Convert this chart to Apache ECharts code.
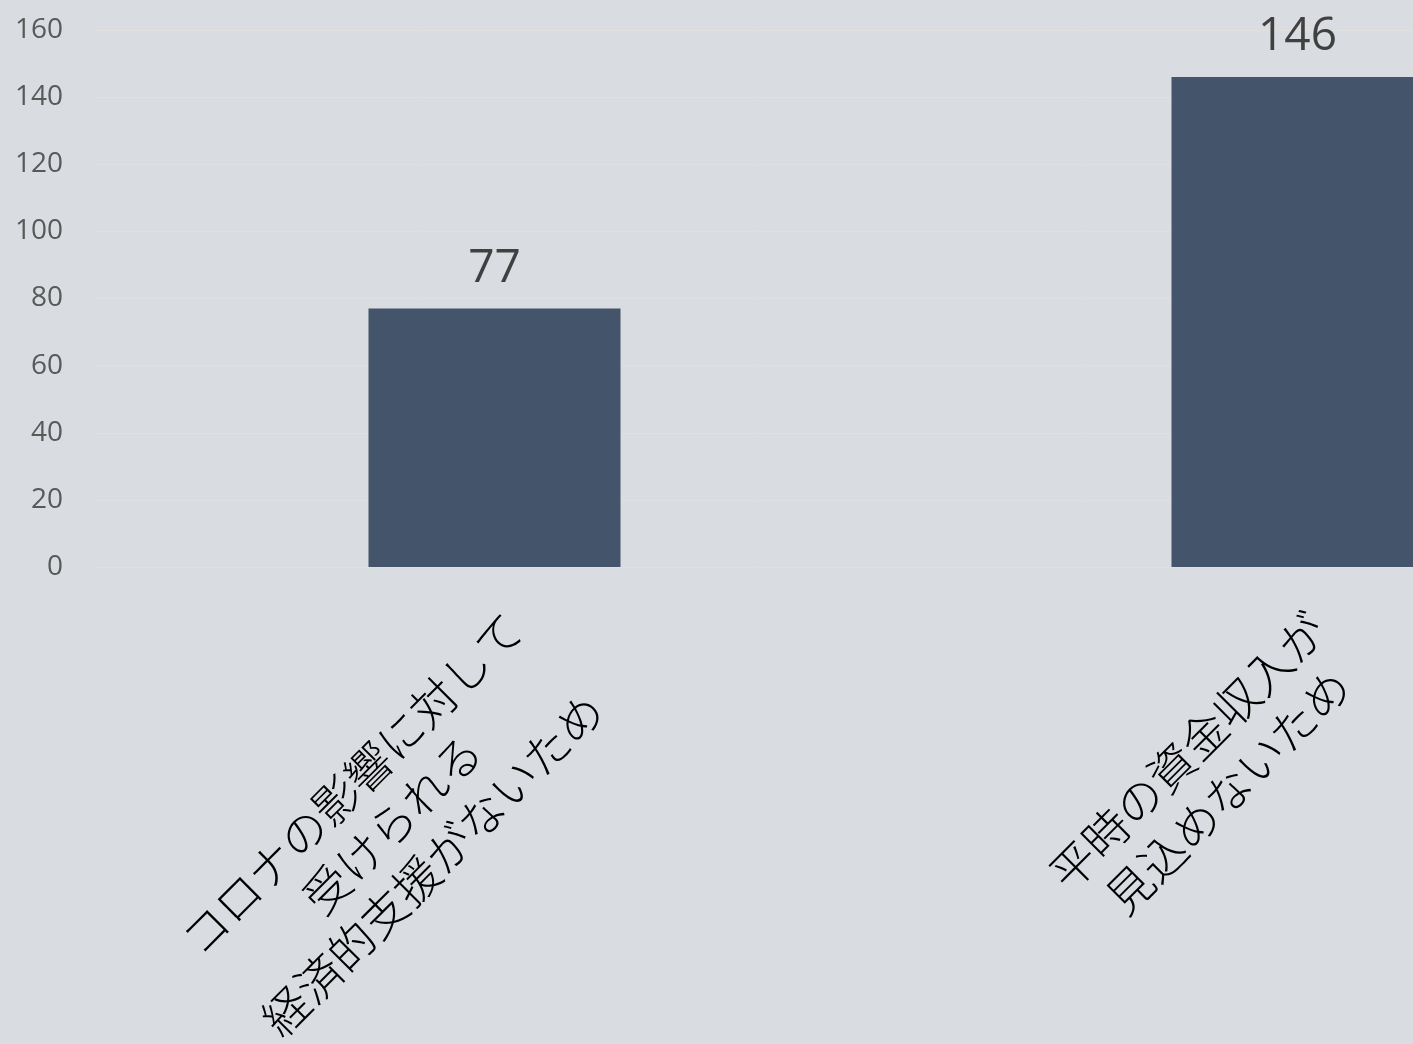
<!DOCTYPE html>
<html>
<head>
<meta charset="utf-8">
<title>chart</title>
<script src="https://cdn.jsdelivr.net/npm/echarts@6/dist/echarts.min.js"></script>
<style>
  html, body { margin: 0; padding: 0; background: #d9dce1; }
  #main { width: 1413px; height: 1044px; }
</style>
</head>
<body>
<div id="main"></div>
<script>
// data
const categories = [
  "コロナの影響に対して\n受けられる\n経済的支援がないため",
  "平時の資金収入が\n見込めないため",
]
const values = [77, 146]
const yMin = 0
const yMax = 160
const yStep = 20

const chart = echarts.init(document.getElementById("main"))

const option = {
  backgroundColor: "#d9dce1",
  animation: false,
  grid: {
    left: 93,
    top: 30,
    width: 1606,
    height: 537,
    containLabel: false,
    outerBoundsMode: "none",
  },
  xAxis: {
    type: "category",
    data: categories,
    axisLine: { show: true, lineStyle: { color: "#e2dfdf", width: 1 } },
    axisTick: { show: false },
    axisLabel: {
      interval: 0,
      rotate: 45,
      align: "right",
      verticalAlign: "top",
      margin: 34,
      color: "#000000",
      fontSize: 46,
      lineHeight: 57,
      fontWeight: 300,
      fontFamily: "Noto Sans CJK JP",
      formatter: (v) => v.split("\n").map((s) => "{c|" + s + "}").join("\n"),
      rich: {
        c: {
          align: "center",
          color: "#000000",
          fontSize: 46,
          lineHeight: 57,
          fontWeight: 300,
          fontFamily: "Noto Sans CJK JP",
        },
      },
    },
  },
  yAxis: {
    type: "value",
    min: yMin,
    max: yMax,
    interval: yStep,
    axisLine: { show: false },
    axisTick: { show: false },
    splitLine: { lineStyle: { color: "#e2dfdf", width: 1 } },
    axisLabel: {
      margin: 30,
      color: "#595959",
      fontSize: 28,
      fontFamily: "Open Sans",
    },
  },
  series: [
    {
      type: "bar",
      data: values,
      barWidth: 252,
      itemStyle: { color: "#44546a" },
      label: {
        show: true,
        position: "top",
        distance: 17,
        color: "#404040",
        fontSize: 46,
        fontFamily: "Open Sans",
      },
    },
  ],
}

chart.setOption(option, true)
</script>
</body>
</html>
